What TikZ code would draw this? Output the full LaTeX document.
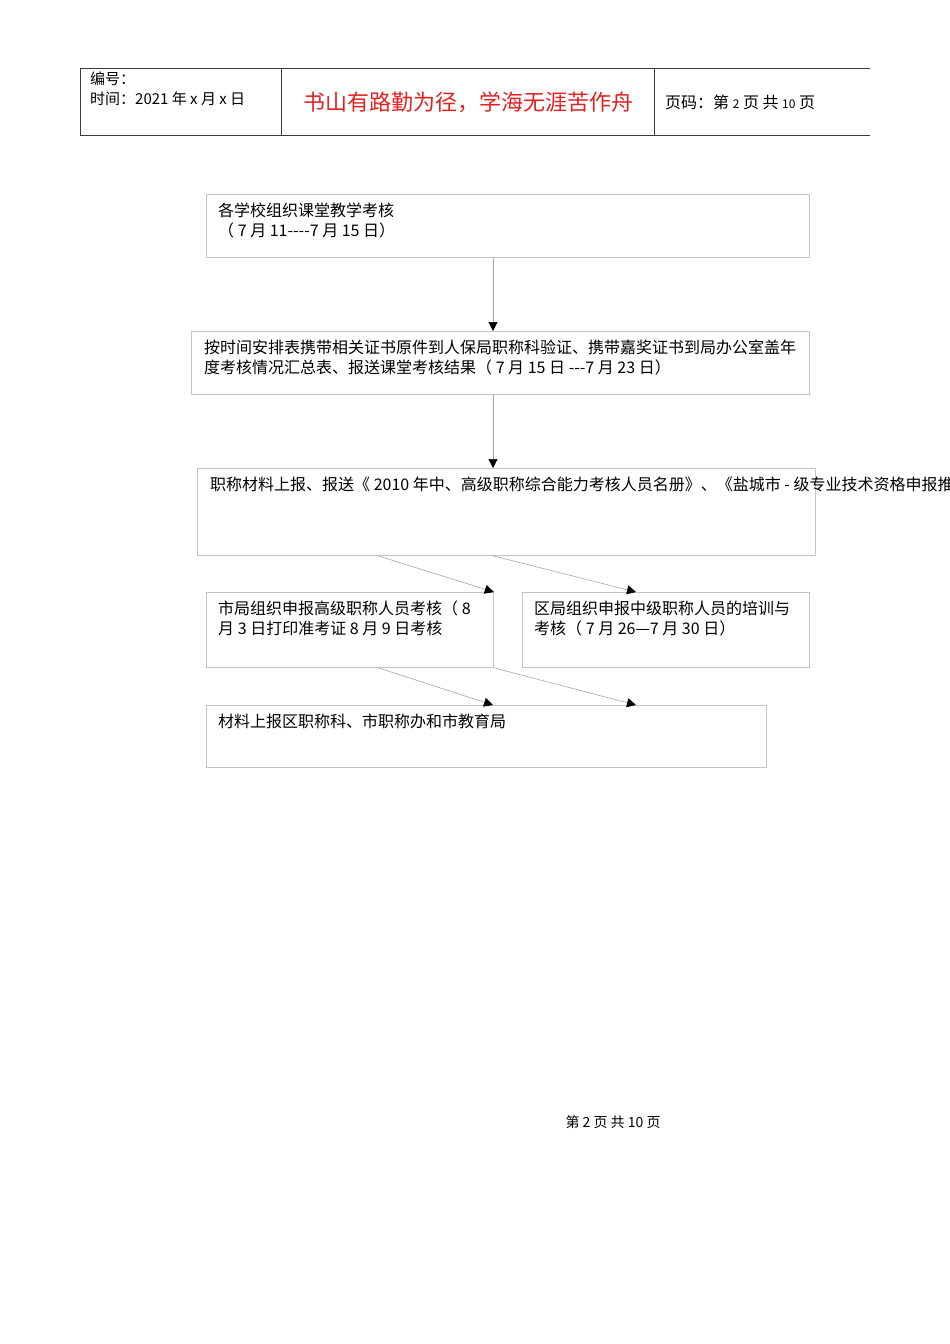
\documentclass[tikz,border=0pt]{standalone}
\usepackage{fontspec}
\setmainfont{Noto Sans CJK SC}[Ligatures=TeXOff]
\usetikzlibrary{arrows.meta}
\definecolor{boxgray}{RGB}{196,196,196}
\definecolor{linegray}{RGB}{165,165,165}
\definecolor{headgray}{RGB}{60,60,60}
\definecolor{mottored}{RGB}{228,32,32}
\begin{document}
\begin{tikzpicture}[x=1pt, y=-1pt, font=\fontsize{16}{20}\selectfont,
    box/.style={draw=boxgray, line width=0.8pt, anchor=north west, inner sep=0pt},
    txt/.style={anchor=north west, inner sep=0pt, align=left},
    arr/.style={draw=linegray, line width=0.6pt, -{Triangle[width=9pt, length=9pt, black]}}]
    \useasboundingbox (0,0) rectangle (950,1344);

    % header table
    \draw[headgray, line width=0.8pt] (80,68) -- (870,68) (80,135) -- (870,135)
        (80,68) -- (80,135) (281,68) -- (281,135) (654,68) -- (654,135);
    \node[txt, font=\fontsize{15}{20}\selectfont] (head-l) at (90,72) {编号：\\时间：2021 年 x 月 x 日};
    \node[mottored, font=\fontsize{22}{24}\selectfont] (motto) at (468,102) {书山有路勤为径，学海无涯苦作舟};
    \node[anchor=west, inner sep=0pt, font=\fontsize{16}{20}\selectfont] (head-r) at (665,102)
        {页码：第 {\fontsize{12}{12}\selectfont 2} 页 共 {\fontsize{12}{12}\selectfont 10} 页};

    % boxes
    \node[box, minimum width=603pt, minimum height=63pt] (b1) at (206,194) {};
    \node[box, minimum width=618pt, minimum height=63pt] (b2) at (191,331) {};
    \node[box, minimum width=618pt, minimum height=87pt] (b3) at (197,468) {};
    \node[box, minimum width=287pt, minimum height=75pt] (b4) at (206,592) {};
    \node[box, minimum width=287pt, minimum height=75pt] (b5) at (522,592) {};
    \node[box, minimum width=560pt, minimum height=62pt] (b6) at (206,705) {};

    % box texts
    \node[txt] (t1) at ([xshift=12pt, yshift=-9pt]b1.north west) {各学校组织课堂教学考核\\（ 7 月 11----7 月 15 日）};
    \node[txt] (t2) at ([xshift=13pt, yshift=-9pt]b2.north west) {按时间安排表携带相关证书原件到人保局职称科验证、携带嘉奖证书到局办公室盖年\\度考核情况汇总表、报送课堂考核结果（ 7 月 15 日 ---7 月 23 日）};
    \node[txt] (t3) at ([xshift=13pt, yshift=-9pt]b3.north west) {职称材料上报、报送《 2010 年中、高级职称综合能力考核人员名册》、《盐城市 - 级专业技术资格申报推};
    \node[txt] (t4) at ([xshift=12pt, yshift=-9pt]b4.north west) {市局组织申报高级职称人员考核（ 8\\月 3 日打印准考证 8 月 9 日考核};
    \node[txt] (t5) at ([xshift=12pt, yshift=-9pt]b5.north west) {区局组织申报中级职称人员的培训与\\考核（ 7 月 26—7 月 30 日）};
    \node[txt] (t6) at ([xshift=12pt, yshift=-9pt]b6.north west) {材料上报区职称科、市职称办和市教育局};

    % connectors
    \draw[arr] ([xshift=287pt]b1.south west) -- ([xshift=302pt]b2.north west);
    \draw[arr] ([xshift=302pt]b2.south west) -- ([xshift=296pt]b3.north west);
    \draw[arr] ([xshift=181pt]b3.south west) -- (b4.north east);
    \draw[arr] ([xshift=296pt]b3.south west) -- ([xshift=114pt]b5.north west);
    \draw[arr] ([xshift=172pt]b4.south west) -- ([xshift=287pt]b6.north west);
    \draw[arr] (b4.south east) -- ([xshift=430pt]b6.north west);

    % footer
    \node[font=\fontsize{14}{16}\selectfont] (foot) at (613,1122) {第 2 页 共 10 页};
\end{tikzpicture}
\end{document}
